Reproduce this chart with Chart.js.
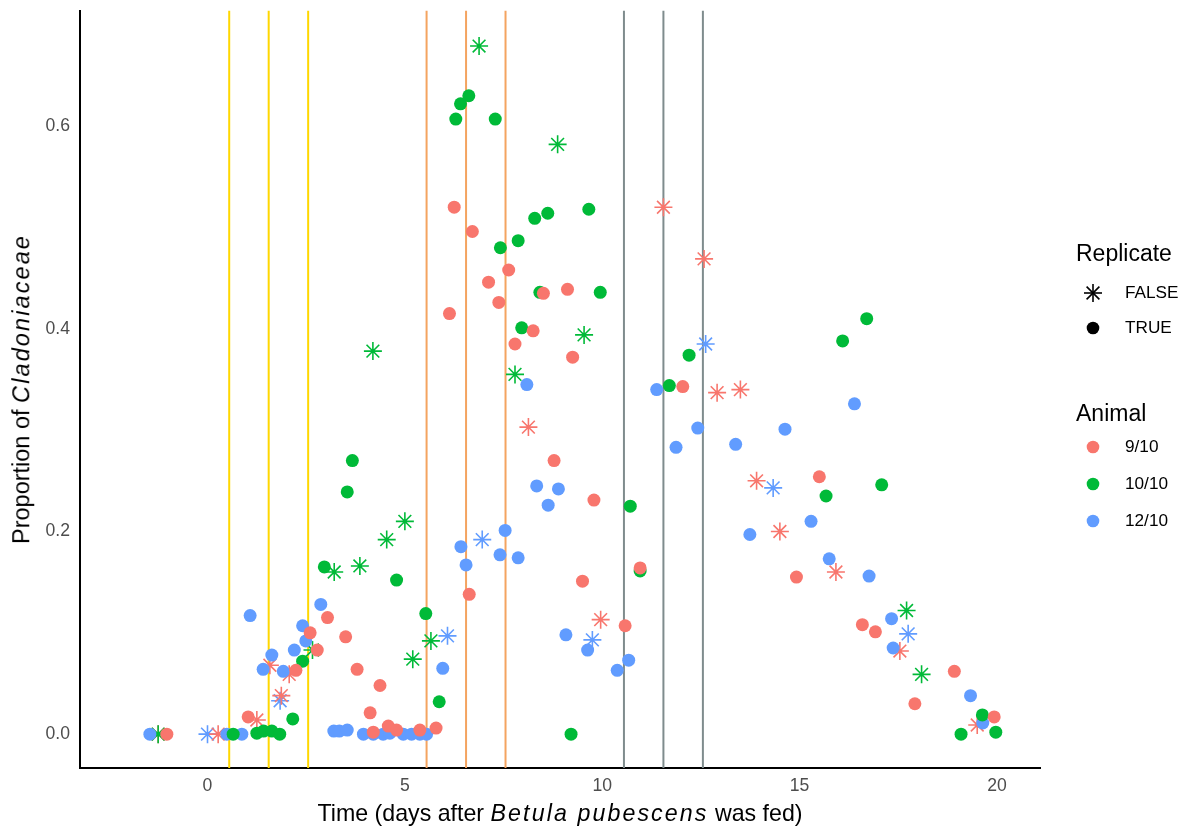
<!DOCTYPE html>
<html><head><meta charset="utf-8">
<script src="https://cdn.jsdelivr.net/npm/chart.js@4/dist/chart.umd.min.js"></script>
<style>
body{margin:0;background:#fff;font-family:"Liberation Sans",Arial,sans-serif;}
#wrap{position:relative;width:1190px;height:827px;overflow:hidden;}
canvas{position:absolute;left:0;top:0;}
.t{position:absolute;color:#000;white-space:nowrap;line-height:1;}
.it{font-style:italic;letter-spacing:2.1px;}
</style></head><body>
<div id="wrap">
<canvas id="c" width="1190" height="827"></canvas>
<div class="t" id="xt" style="font-size:23.2px;left:560px;top:814px;transform:translate(-50%,-50%);">Time (days after <span class="it">Betula pubescens</span> was fed)</div>
<div class="t" id="yt" style="font-size:23.5px;left:22px;top:389px;transform:translate(-50%,-50%) rotate(-90deg);">Proportion of <span class="it">Cladoniaceae</span></div>
<div id="legend"></div>
</div>
<script>
// ---- data ----
const xTicks = [0, 5, 10, 15, 20];
const yTicks = [0.0, 0.2, 0.4, 0.6];
const yellowLines = [0.55, 1.55, 2.55];
const orangeLines = [5.55, 6.55, 7.55];
const greyLines = [10.55, 11.55, 12.55];

// Animal 9/10
const a9_true_t = [-1.03,1.03,2.24,2.6,2.78,3.04,3.5,3.79,4.12,4.37,4.2,4.58,4.79,5.38,5.79,6.63,6.25,6.71,7.63,7.12,7.38,6.13,8.51,9.12,8.25,7.79,9.25,8.78,9.79,9.5,10.58,10.96,12.04,15.5,14.92,16.59,16.92,17.92,18.92,19.93];
const a9_true_p = [0.0,0.017,0.063,0.1,0.083,0.115,0.096,0.064,0.021,0.048,0.002,0.008,0.004,0.004,0.006,0.138,0.52,0.496,0.458,0.446,0.426,0.415,0.435,0.439,0.398,0.385,0.372,0.27,0.231,0.151,0.107,0.164,0.343,0.254,0.155,0.108,0.101,0.030,0.062,0.017];
const a9_false_t = [-1.25,0.27,1.25,1.58,1.87,2.07,8.13,9.96,11.55,12.58,12.91,13.5,13.91,14.5,15.92,17.54,19.5];
const a9_false_p = [0.0,0.0,0.014,0.068,0.038,0.059,0.303,0.113,0.52,0.469,0.337,0.34,0.25,0.2,0.16,0.082,0.009];

// Animal 10/10
const a10_true_t = [0.65,1.25,1.42,1.63,1.83,2.16,2.41,2.96,3.54,3.67,4.79,5.53,5.87,6.29,6.41,6.62,7.29,8.29,8.62,9.66,7.42,7.87,8.42,9.95,7.96,9.21,10.71,10.96,11.7,12.2,15.67,16.09,16.7,17.08,19.09,19.63,19.97];
const a10_true_p = [0.0,0.001,0.003,0.003,0.0,0.015,0.072,0.165,0.239,0.27,0.152,0.119,0.032,0.607,0.622,0.63,0.607,0.509,0.514,0.518,0.48,0.487,0.436,0.436,0.401,0.0,0.225,0.161,0.344,0.374,0.235,0.388,0.41,0.246,0.0,0.019,0.002];
const a10_false_t = [-1.25,2.66,3.21,3.86,4.19,4.54,5.0,5.2,5.66,6.88,7.79,8.87,9.54,17.71,18.09];
const a10_false_p = [0.0,0.083,0.16,0.166,0.378,0.192,0.21,0.074,0.092,0.679,0.355,0.582,0.394,0.122,0.059];

// Animal 12/10
const a12_true_t = [-1.46,0.49,0.87,1.08,1.41,1.63,1.92,2.2,2.41,2.49,2.87,3.2,3.34,3.54,3.95,4.2,4.45,4.62,4.96,5.17,5.38,5.55,5.96,6.42,6.55,7.41,7.54,7.87,8.09,8.34,8.63,8.89,9.08,9.63,10.38,10.67,11.38,11.87,12.42,13.38,13.74,14.63,15.29,15.75,16.39,16.76,17.33,17.37,19.33,19.64];
const a12_true_p = [0.0,0.0,0.0,0.117,0.064,0.078,0.062,0.083,0.107,0.092,0.128,0.003,0.003,0.004,0.0,0.0,0.0,0.001,0.0,0.0,0.0,0.0,0.065,0.185,0.167,0.177,0.201,0.174,0.345,0.245,0.226,0.242,0.098,0.083,0.063,0.073,0.34,0.283,0.302,0.286,0.197,0.301,0.21,0.173,0.326,0.156,0.114,0.085,0.038,0.011];
const a12_false_t = [0.0,1.84,6.08,6.96,9.75,12.62,14.33,17.75];
const a12_false_p = [0.0,0.033,0.097,0.192,0.093,0.385,0.243,0.099];

// ---- styling ----
const X_MIN = -3.23, X_MAX = 21.09, Y_MIN = -0.0334, Y_MAX = 0.714;
const COL9 = '#F8766D', COL10 = '#00BA38', COL12 = '#619CFF';
const pts = (t, p) => t.map((v, i) => ({x: v, y: p[i]}));

function dotSet(label, t, p, col) {
  return {label, data: pts(t, p), pointStyle: 'circle', pointRadius: 6.5,
    backgroundColor: col, borderColor: col, pointBorderWidth: 0, order: 1};
}
function starSet(label, t, p, col) {
  return {label, data: pts(t, p), pointStyle: 'star', pointRadius: 9,
    backgroundColor: col, borderColor: col, pointBorderWidth: 1.6, order: 1};
}
function vline(v, col) {
  return {type: 'line', data: [{x: v, y: Y_MIN}, {x: v, y: Y_MAX}], showLine: true,
    borderColor: col, borderWidth: 2, pointRadius: 0, order: 5, clip: 0};
}

const datasets = [
  ...yellowLines.map(v => vline(v, '#FFD700')),
  ...orangeLines.map(v => vline(v, '#F4A460')),
  ...greyLines.map(v => vline(v, '#7F8C8D')),
  dotSet('9/10 TRUE', a9_true_t, a9_true_p, COL9),
  dotSet('10/10 TRUE', a10_true_t, a10_true_p, COL10),
  dotSet('12/10 TRUE', a12_true_t, a12_true_p, COL12),
  starSet('10/10 FALSE', a10_false_t, a10_false_p, COL10),
  starSet('9/10 FALSE', a9_false_t, a9_false_p, COL9),
  starSet('12/10 FALSE', a12_false_t, a12_false_p, COL12),
];

function noPad(s) { s.paddingTop = 0; s.paddingBottom = 0; s.paddingLeft = 0; s.paddingRight = 0; }

Chart.defaults.font.family = '"Liberation Sans", Arial, sans-serif';
new Chart(document.getElementById('c'), {
  type: 'scatter',
  data: {datasets},
  options: {
    responsive: false, animation: false, events: [],
    layout: {padding: {left: 0, right: 150, top: 8, bottom: 0}},
    plugins: {legend: {display: false}, tooltip: {enabled: false}},
    scales: {
      x: {type: 'linear', min: X_MIN, max: X_MAX,
        grid: {display: false, drawTicks: false},
        border: {display: true, color: '#000', width: 2},
        ticks: {color: '#4D4D4D', font: {size: 17.6}, padding: 8},
        afterBuildTicks: s => { s.ticks = xTicks.map(v => ({value: v})); },
        afterFit: s => { s.height = 59; noPad(s); }},
      y: {type: 'linear', min: Y_MIN, max: Y_MAX,
        grid: {display: false, drawTicks: false},
        border: {display: true, color: '#000', width: 2},
        ticks: {color: '#4D4D4D', font: {size: 17.6}, padding: 10,
          callback: v => v.toFixed(1)},
        afterBuildTicks: s => { s.ticks = yTicks.map(v => ({value: v})); },
        afterFit: s => { s.width = 80; noPad(s); }}
    }
  }
});

// ---- legend (HTML text) ----
const starSvg = c => `<svg width="24" height="24" viewBox="-12 -12 24 24"><g stroke="${c}" stroke-width="1.6">
<line x1="-9" y1="0" x2="9" y2="0"/><line x1="0" y1="-9" x2="0" y2="9"/>
<line x1="-6.4" y1="-6.4" x2="6.4" y2="6.4"/><line x1="-6.4" y1="6.4" x2="6.4" y2="-6.4"/></g></svg>`;
const dotSvg = c => `<svg width="24" height="24" viewBox="-12 -12 24 24"><circle r="6.3" fill="${c}"/></svg>`;
const legendGroups = [
  {title: 'Replicate', top: 253, items: [['FALSE', starSvg('#000'), 293], ['TRUE', dotSvg('#000'), 328]]},
  {title: 'Animal', top: 413, items: [['9/10', dotSvg(COL9), 447], ['10/10', dotSvg(COL10), 484], ['12/10', dotSvg(COL12), 521]]}
];
let html = '';
for (const g of legendGroups) {
  html += `<div class="t" style="font-size:23px;left:1076px;top:${g.top}px;transform:translateY(-50%);">${g.title}</div>`;
  for (const [lab, svg, y] of g.items) {
    html += `<div style="position:absolute;left:${1093-12}px;top:${y-12}px;width:24px;height:24px;">${svg}</div>`;
    html += `<div class="t" style="font-size:17.2px;left:1125px;top:${y}px;transform:translateY(-50%);">${lab}</div>`;
  }
}
document.getElementById('legend').innerHTML = html;
</script>
</body></html>
